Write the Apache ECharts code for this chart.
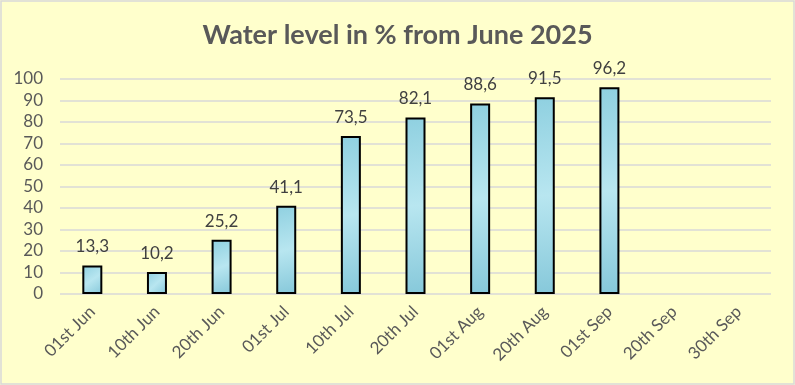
<!DOCTYPE html>
<html><head><meta charset="utf-8">
<script src="https://cdn.jsdelivr.net/npm/echarts@6/dist/echarts.min.js"></script>
<style>html,body{margin:0;padding:0;background:#fff}#c{width:795px;height:385px;box-sizing:border-box}</style>
</head><body><div id="c"></div>
<script>
const categories = ['01st Jun','10th Jun','20th Jun','01st Jul','10th Jul','20th Jul','01st Aug','20th Aug','01st Sep','20th Sep','30th Sep'];
const values = [13.3, 10.2, 25.2, 41.1, 73.5, 82.1, 88.6, 91.5, 96.2, null, null];
const yTicks = [0,10,20,30,40,50,60,70,80,90,100];
const chart = echarts.init(document.getElementById('c'));
const font = 'Lato, "Open Sans", sans-serif';
chart.setOption({
  backgroundColor: '#FFFFCC',
  animation: false,
  graphic: [{type:'rect', shape:{x:1,y:1,width:793,height:383}, style:{fill:'none', stroke:'#D9D9D9', lineWidth:1.5}, silent:true}],
  title: {text:'Water level in % from June 2025', left:'center', top:17,
    textStyle:{fontFamily:font, fontSize:27, fontWeight:'bold', color:'#595959'}},
  grid: {left:60, right:24, top:79, bottom:91, containLabel:false},
  xAxis: {type:'category', data:categories,
    axisLine:{show:false}, axisTick:{show:false},
    axisLabel:{rotate:45, color:'#595959', fontFamily:font, fontSize:17, margin:15, interval:0}},
  yAxis: {type:'value', min:yTicks[0], max:yTicks[yTicks.length-1], interval:10,
    axisLine:{show:false}, axisTick:{show:false},
    axisLabel:{color:'#595959', fontFamily:font, fontSize:17, margin:17},
    splitLine:{lineStyle:{color:'#D9D9D9', width:1.5}}},
  series: [{type:'bar', data:values, barWidth:20,
    itemStyle:{borderColor:'#000', borderWidth:2,
      color:{type:'linear', x:0,y:0,x2:1,y2:1, colorStops:[{offset:0,color:'#8fd0e0'},{offset:0.5,color:'#b8e6f0'},{offset:1,color:'#86c8da'}]}},
    label:{show:true, position:'top', distance:10, color:'#404040', fontFamily:font, fontSize:17,
      formatter: p => p.value == null ? '' : p.value.toFixed(1).replace('.', ',')}
  }]
});
</script></body></html>
